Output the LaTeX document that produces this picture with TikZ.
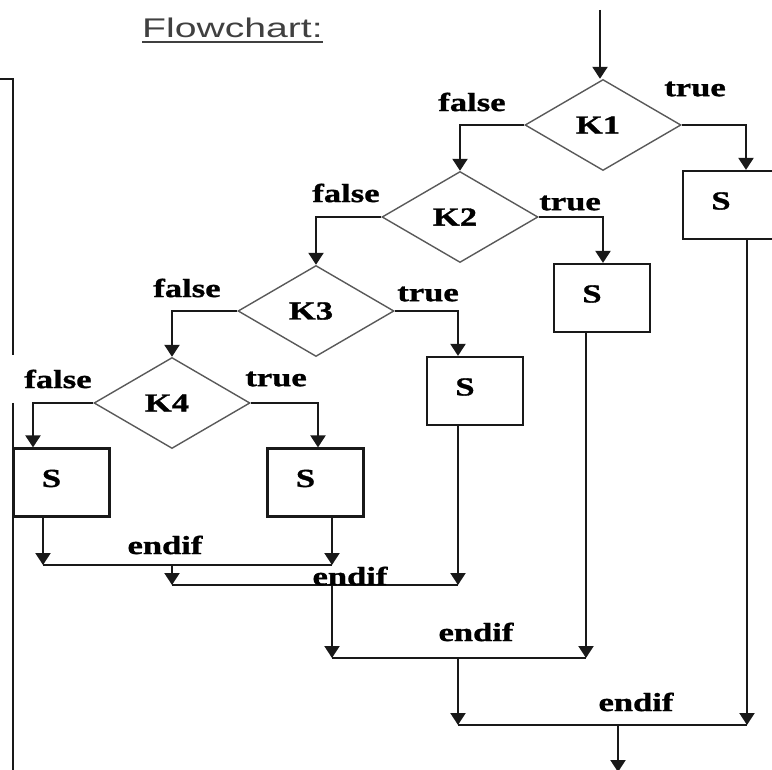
\documentclass[tikz,border=0pt]{standalone}
\usepackage{fontspec}
\usetikzlibrary{shapes.geometric,arrows.meta}
\newfontfamily\labfont{Liberation Serif}[FakeStretch=1.33, BoldFeatures={FakeBold=1.2}]
\newfontfamily\titlefont{Liberation Sans}[FakeStretch=1.45]
\tikzset{
  ln/.style={line width=2.2pt, black!90},
  arr/.style={ln, -{Triangle[width=15pt,length=12pt]}},
  lab/.style={inner sep=0pt, font=\labfont\bfseries\fontsize{26}{26}\selectfont},
  dia/.style={diamond, draw=black!65, line width=1.4pt, inner sep=0pt,
    minimum width=156pt, minimum height=91pt,
    label={[lab, xshift=-5pt]center:#1}},
  box/.style={rectangle, draw=black!90, line width=2.2pt, inner sep=0pt,
    minimum width=96pt, minimum height=68pt,
    label={[lab, shift={(-10pt,4pt)}]center:S}}
}
\begin{document}
\begin{tikzpicture}[x=1pt,y=-1pt]
\useasboundingbox (0,0) rectangle (772,770);
\clip (0,0) rectangle (772,770);
% title
\node[anchor=base west, inner sep=0pt, text=black!75,
  font=\titlefont\fontsize{27}{27}\selectfont] (title) at (142,38) {Flowchart:};
\draw[black!75, line width=1.6pt] ([yshift=-4pt]title.base west) -- ([yshift=-4pt]title.base east);
% left bracket line
\coordinate (b0) at (0,79);
\coordinate (b1) at (13,79);
\coordinate (b2) at (13,355);
\coordinate (b3) at (13,403);
\coordinate (b4) at (13,770);
\draw[ln] (b0) -- (b1) -- (b2);
\draw[ln] (b3) -- (b4);
% decisions
\node[dia=K1] (K1) at (603,125) {};
\node[dia=K2] (K2) at (460,217) {};
\node[dia=K3] (K3) at (316,311) {};
\node[dia=K4] (K4) at (172,403) {};
% statements
\node[box] (S1) at (731,205) {};
\node[box] (S2) at (602,298) {};
\node[box] (S3) at (475,391) {};
\node[box] (S4) at (315.5,482.5) {};
\node[box] (S5) at (61.5,482.5) {};
% entry
\coordinate (start) at (600,10);
\draw[arr] (start) -- (start |- K1.north);
% branches
\draw[arr] (K1.west) -| (K2.north);
\draw[arr] (K1.east) -| ([xshift=15pt]S1.north);
\draw[arr] (K2.west) -| (K3.north);
\draw[arr] (K2.east) -| ([xshift=1pt]S2.north);
\draw[arr] (K3.west) -| (K4.north);
\draw[arr] (K3.east) -| ([xshift=-17pt]S3.north);
\draw[arr] (K4.west) -| ([xshift=-28.5pt]S5.north);
\draw[arr] (K4.east) -| ([xshift=2.5pt]S4.north);
% labels
\node[lab] (f1) at (472,102) {false};
\node[lab] (t1) at (695,89) {true};
\node[lab] (f2) at (346,193) {false};
\node[lab] (t2) at (570,203) {true};
\node[lab] (f3) at (187,288) {false};
\node[lab] (t3) at (428,294) {true};
\node[lab] (f4) at (58,379) {false};
\node[lab] (t4) at (276,379) {true};
% joins
\coordinate (j1) at (172,565);
\coordinate (j2) at (332,585);
\coordinate (j3) at (458,658);
\coordinate (j4) at (618,725);
\coordinate (end) at (618,772);
\draw[arr] ([xshift=-18.5pt]S5.south) -- ([xshift=-18.5pt]S5.south |- j1);
\draw[arr] ([xshift=16.5pt]S4.south) -- ([xshift=16.5pt]S4.south |- j1);
\draw[ln] ([xshift=-18.5pt]S5.south |- j1) -- ([xshift=16.5pt]S4.south |- j1);
\draw[arr] (j1) -- (j1 |- j2);
\draw[arr] ([xshift=-17pt]S3.south) -- ([xshift=-17pt]S3.south |- j2);
\draw[ln] (j1 |- j2) -- ([xshift=-17pt]S3.south |- j2);
\draw[arr] (j2) -- (j2 |- j3);
\draw[arr] ([xshift=-16pt]S2.south) -- ([xshift=-16pt]S2.south |- j3);
\draw[ln] (j2 |- j3) -- ([xshift=-16pt]S2.south |- j3);
\draw[arr] (j3) -- (j3 |- j4);
\draw[arr] ([xshift=16pt]S1.south) -- ([xshift=16pt]S1.south |- j4);
\draw[ln] (j3 |- j4) -- ([xshift=16pt]S1.south |- j4);
\draw[arr] (j4) -- (end);
% endif labels
\node[lab] (e1) at (165,545) {endif};
\node[lab] (e2) at (350,576) {endif};
\node[lab] (e3) at (476,632) {endif};
\node[lab] (e4) at (636,702) {endif};
\end{tikzpicture}
\end{document}
